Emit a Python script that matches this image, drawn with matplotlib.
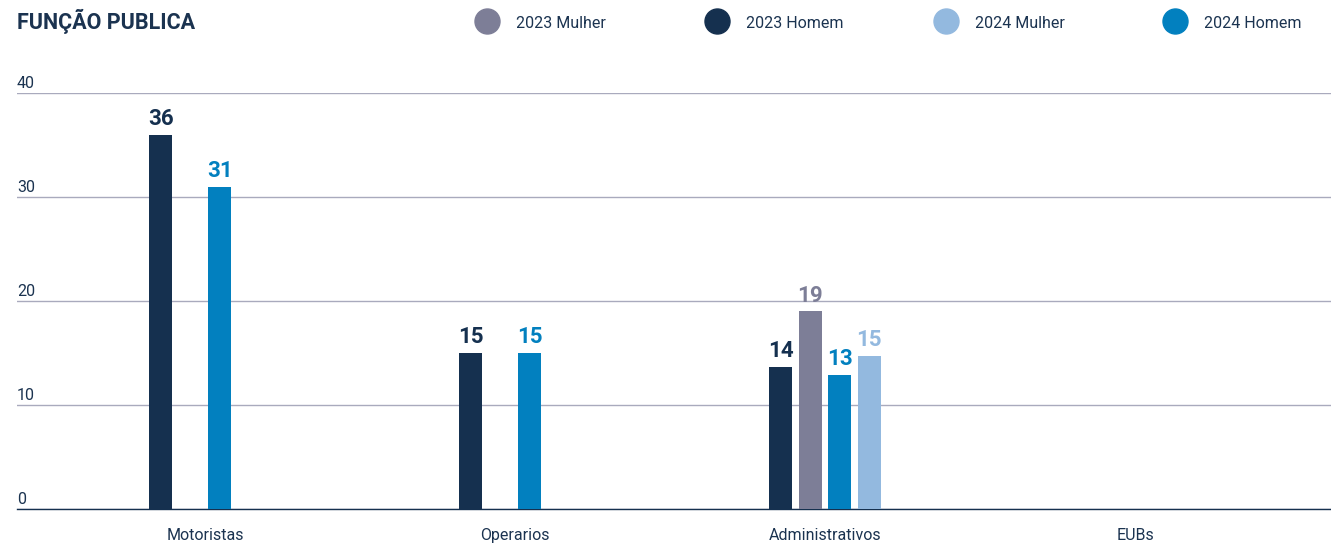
import numpy as np
import matplotlib
matplotlib.use("Agg")
import matplotlib.pyplot as plt
from matplotlib.lines import Line2D
import matplotlib.transforms as mtransforms

plt.rcParams['font.family'] = ['Roboto', 'DejaVu Sans']

categories = ['Motoristas', 'Operarios', 'Administrativos', 'EUBs']
homem_2023 = [36, 15, 13.7, np.nan]
mulher_2023 = [np.nan, np.nan, 19, np.nan]
homem_2024 = [31, 15, 12.9, np.nan]
mulher_2024 = [np.nan, np.nan, 14.7, np.nan]
yticks = [0, 10, 20, 30, 40]

navy = '#15304f'
grey = '#7d7e97'
blue = '#0280bf'
light = '#93b9df'
text_col = '#1b3350'

# within-group order on the chart
series = [
    ('2023 Homem', homem_2023, navy),
    ('2023 Mulher', mulher_2023, grey),
    ('2024 Homem', homem_2024, blue),
    ('2024 Mulher', mulher_2024, light),
]

fig = plt.figure(figsize=(13.31, 5.46), dpi=100)
ax = fig.add_axes([17 / 1331, 37 / 546, 1 - 17 / 1331, 416 / 546])

x = np.arange(len(categories))
step = 0.0952
width = 0.073
for i, (name, vals, col) in enumerate(series):
    pos = x + (i - 1.5) * step
    vals = np.array(vals, dtype=float)
    ok = ~np.isnan(vals)
    bars = ax.bar(pos[ok], vals[ok], width=width, color=col, zorder=3)
    for b, v in zip(bars, vals[ok]):
        ax.annotate(f'{v:.0f}', (b.get_x() + b.get_width() / 2, v),
                    xytext=(0, 3.5), textcoords='offset points',
                    ha='center', va='bottom', fontsize=16,
                    fontweight='bold', color=col, annotation_clip=False)

ax.set_xlim(-0.606, 3.632)
ax.set_ylim(0, 40)
ax.set_yticks(yticks)
ax.yaxis.grid(True, color='#a9aabd', linewidth=1, zorder=0)
ax.tick_params(axis='y', length=0, labelleft=False)
ax.tick_params(axis='x', length=0, pad=14, labelsize=11.5, labelcolor=text_col)
ax.set_xticks(x)
ax.set_xticklabels(categories)
for s in ['top', 'right', 'left']:
    ax.spines[s].set_visible(False)
ax.spines['bottom'].set_color(navy)
ax.spines['bottom'].set_linewidth(1)

trans = mtransforms.blended_transform_factory(ax.transAxes, ax.transData)
for t in yticks:
    ax.annotate(str(t), (0, t), xycoords=trans, xytext=(0, 1.5),
                textcoords='offset points', ha='left', va='bottom',
                fontsize=11.5, color=text_col, annotation_clip=False)

fig.text(17 / 1331, 1 - 21 / 546, 'FUNÇÃO PUBLICA', fontsize=15.5,
         fontweight='bold', color=text_col, ha='left', va='center')

# legend, drawn by hand for even spacing
legend_items = [('2023 Mulher', grey, 487), ('2023 Homem', navy, 717),
                ('2024 Mulher', light, 946), ('2024 Homem', blue, 1175)]
for name, col, px in legend_items:
    fig.add_artist(Line2D([px / 1331], [1 - 21 / 546], marker='o',
                          markersize=18, color=col, linestyle='none',
                          transform=fig.transFigure))
    fig.text((px + 29) / 1331, 1 - 23.5 / 546, name, fontsize=11.5,
             color=text_col, ha='left', va='center')

fig.savefig('out.png', dpi=100, facecolor='white')
